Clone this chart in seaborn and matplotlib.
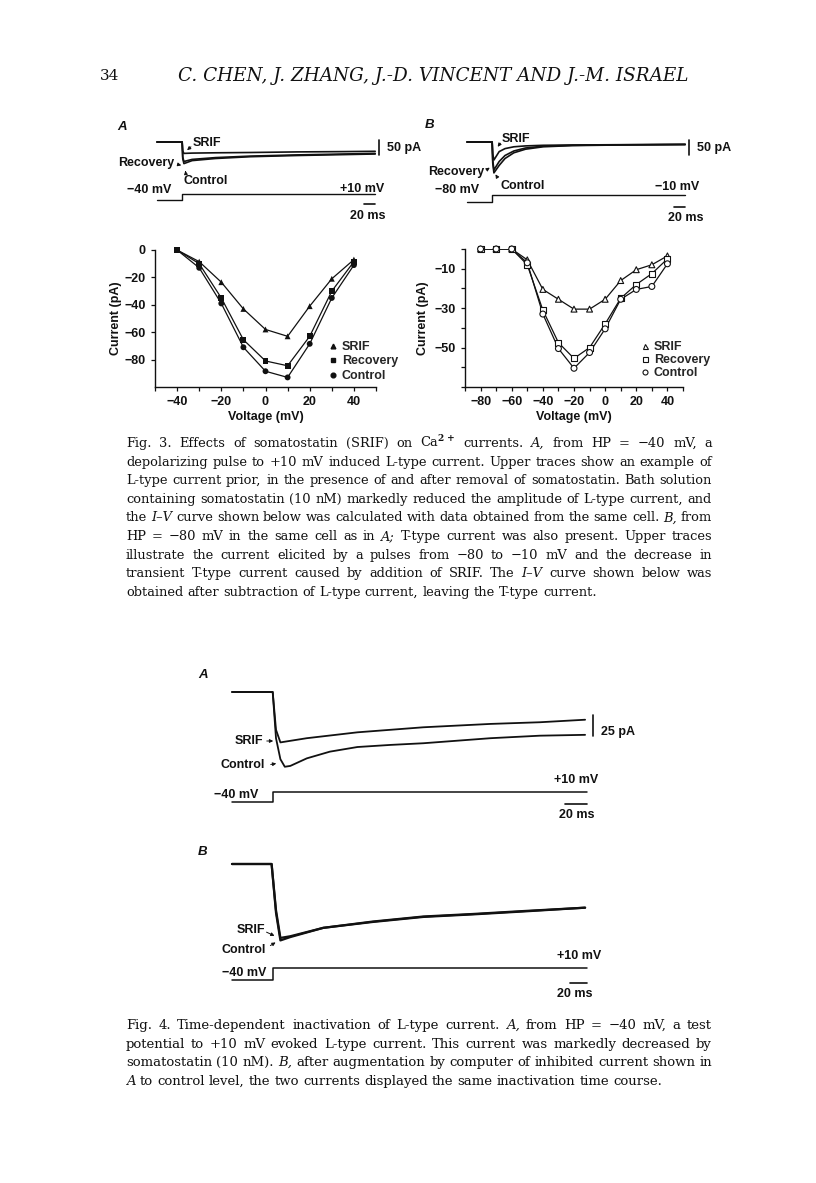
import numpy as np
import pandas as pd
import matplotlib
matplotlib.use("Agg")
import matplotlib.pyplot as plt
import seaborn as sns
from matplotlib.lines import Line2D
from matplotlib.patches import FancyArrowPatch
from matplotlib.ticker import MultipleLocator

W, H = 816, 1183

# ---------------- data ----------------
# Fig. 3A  I-V (L-type), mV / pA
v_L = [-40, -30, -20, -10, 0, 10, 20, 30, 40]
i_L_srif = [0, -8.5, -23.5, -43, -58, -63, -41, -21, -7]
i_L_recovery = [0, -10, -35, -65.5, -81, -84.5, -63, -30, -8.5]
i_L_control = [0, -13, -39, -71, -88.5, -93, -68.5, -35, -11]

# Fig. 3B  I-V (T-type)
v_T = [-80, -70, -60, -50, -40, -30, -20, -10, 0, 10, 20, 30, 40]
i_T_srif = [0, 0, 0, -5.5, -20.5, -25.5, -30.5, -30.5, -25.5, -16, -10.5, -8, -3.5]
i_T_recovery = [0, 0, 0, -8, -31, -47.5, -55.5, -50, -38, -25, -18, -12.5, -5]
i_T_control = [0, 0, 0, -7, -33, -50.5, -60.5, -52.5, -40.5, -25.5, -20.5, -19, -7.5]

conditions = ["SRIF", "Recovery", "Control"]

# Fig. 3A current traces (ms, pA)
t_3a = [0, 43, 44, 46, 60, 100, 160, 240, 320, 373]
srif_3a = [0, 0, -30, -38, -37, -36, -35, -33, -32, -31]
recovery_3a = [0, 0, -50, -65, -58, -52, -47, -43, -40, -38]
control_3a = [0, 0, -55, -72, -62, -55, -49, -45, -42, -40]
step_t_3a = [0, 43, 43, 373]
step_v_3a = [-40, -40, 10, 10]

# Fig. 3B current traces
t_3b = [0, 43, 44, 46, 55, 65, 80, 100, 130, 180, 260, 373]
srif_3b = [0, 0, -40, -60, -32, -22, -16, -13, -11, -10, -9, -8]
recovery_3b = [0, 0, -60, -93, -65, -45, -30, -20, -14, -11, -9.5, -8]
control_3b = [0, 0, -70, -103, -78, -55, -36, -24, -16, -12, -10, -8.5]
step_t_3b = [0, 43, 43, 373]
step_v_3b = [-80, -80, -10, -10]

# Fig. 4A
t_4a_ctrl = [0, 37, 40, 44, 48, 53, 68, 89, 114, 144, 174, 235, 280, 321]
ctrl_4a = [0, 0, -55, -80, -89, -88, -79, -71, -65.5, -63, -61, -55, -52, -51]
t_4a_srif = [0, 37, 40, 44, 68, 114, 174, 235, 280, 321]
srif_4a = [0, 0, -45, -60, -55, -48, -42, -38, -36, -33]
step_t_4 = [0, 37, 37, 323]
step_v_4 = [-40, -40, 10, 10]

# Fig. 4B (SRIF trace scaled up to control)
t_4b = [0, 36, 40, 44, 53, 83, 128, 174, 219, 265, 321]
srif_4b = [0, 0, -55, -88, -86, -76, -69, -63, -60, -56.5, -52]
ctrl_4b = [0, 0, -58, -91, -87, -76, -68.5, -62.5, -59.5, -56, -52]

cap3 = [
    "Fig. 3. Effects of somatostatin (SRIF) on Ca$^{2+}$ currents. *A, from HP = −40 mV, a",
    "depolarizing pulse to +10 mV induced L-type current. Upper traces show an example of",
    "L-type current prior, in the presence of and after removal of somatostatin. Bath solution",
    "containing somatostatin (10 nM) markedly reduced the amplitude of L-type current, and",
    "the *I–V curve shown below was calculated with data obtained from the same cell. *B, from",
    "HP = −80 mV in the same cell as in *A; T-type current was also present. Upper traces",
    "illustrate the current elicited by a pulses from −80 to −10 mV and the decrease in",
    "transient T-type current caused by addition of SRIF. The *I–V curve shown below was",
    "obtained after subtraction of L-type current, leaving the T-type current.",
]
cap4 = [
    "Fig. 4. Time-dependent inactivation of L-type current. *A, from HP = −40 mV, a test",
    "potential to +10 mV evoked L-type current. This current was markedly decreased by",
    "somatostatin (10 nM). *B, after augmentation by computer of inhibited current shown in",
    "*A to control level, the two currents displayed the same inactivation time course.",
]

# ---------------- style ----------------
sns.set_theme(style="ticks")
plt.rcParams["font.family"] = ["Liberation Sans", "DejaVu Sans"]
plt.rcParams["font.weight"] = "bold"
plt.rcParams["axes.labelweight"] = "bold"
plt.rcParams["mathtext.fontset"] = "dejavuserif"
INK = "#111111"

fig = plt.figure(figsize=(W / 100, H / 100), dpi=100)
fig.patch.set_facecolor("white")
R = fig.canvas.get_renderer()


def fx(x):
    return x / W


def fy(y):
    return 1 - y / H


def label(x, y, s, size=9, ha="left", va="center", **kw):
    return fig.text(fx(x), fy(y), s, fontsize=size, ha=ha, va=va, color=INK, **kw)


def arrow(x0, y0, x1, y1):
    fig.add_artist(FancyArrowPatch((fx(x0), fy(y0)), (fx(x1), fy(y1)),
                                   transform=fig.transFigure, arrowstyle="-|>",
                                   mutation_scale=5, lw=0.7, color=INK))


def scaled_axes(left, right, top, bottom, xp0, xv0, xk, yp0, yv0, yk):
    ax = fig.add_axes([fx(left), fy(bottom), (right - left) / W, (bottom - top) / H])
    ax.set_xlim(xv0 + (left - xp0) / xk, xv0 + (right - xp0) / xk)
    ax.set_ylim(yv0 - (bottom - yp0) / yk, yv0 + (yp0 - top) / yk)
    ax.axis("off")
    return ax


def trace(ax, t, y, lw=1.0):
    sns.lineplot(x=t, y=y, ax=ax, color=INK, lw=lw, estimator=None, sort=False)


# ---------------- header ----------------
label(100, 76, "34", size=11, family="DejaVu Serif", fontweight="normal")
hdr = label(178, 76, "C. CHEN, J. ZHANG, J.-D. VINCENT AND J.-M. ISRAEL", size=10,
            family="DejaVu Serif", style="italic", fontweight="normal")
hdr.set_fontsize(10 * 508 / hdr.get_window_extent(R).width)

# ---------------- Fig. 3A traces ----------------
ax = scaled_axes(150, 395, 128, 180, 157, 0, 0.585, 142, 0, 0.3)
for ys in (srif_3a, recovery_3a, control_3a):
    trace(ax, t_3a, ys, 1.2)
ax.plot([t_3a[-1] + 6] * 2, [6, 6 - 50], color=INK, lw=1.2, clip_on=False)
axv = scaled_axes(150, 395, 184, 212, 157, 0, 0.585, 200, -40, 0.12)
trace(axv, step_t_3a, step_v_3a, 1.0)
axv.plot([step_t_3a[-1] - 20, step_t_3a[-1]], [-73, -73], color=INK, lw=1.2, clip_on=False)
label(122, 127, "A", size=9.5, ha="center", style="italic")
label(193, 143, "SRIF")
label(118, 163, "Recovery")
label(183, 181, "Control")
label(127, 190, "−40 mV")
label(384, 189, "+10 mV", ha="right")
label(387, 148, "50 pA")
label(368, 216, "20 ms", ha="center")
arrow(193, 145, 185, 152)
arrow(176, 164, 184, 166)
arrow(186, 175, 185, 168)

# ---------------- Fig. 3B traces ----------------
ax = scaled_axes(460, 705, 128, 180, 467, 0, 0.585, 142, 0, 0.3)
for ys in (srif_3b, recovery_3b, control_3b):
    trace(ax, t_3b, ys, 1.2)
ax.plot([t_3b[-1] + 6] * 2, [6, 6 - 50], color=INK, lw=1.2, clip_on=False)
axv = scaled_axes(460, 705, 184, 212, 467, 0, 0.585, 202, -80, 0.1)
trace(axv, step_t_3b, step_v_3b, 1.0)
axv.plot([step_t_3b[-1] - 20, step_t_3b[-1]], [-130, -130], color=INK, lw=1.2, clip_on=False)
label(430, 125, "B", size=9.5, ha="center", style="italic")
label(502, 139, "SRIF")
label(428, 172, "Recovery")
label(500, 186, "Control")
label(435, 190, "−80 mV")
label(699, 187, "−10 mV", ha="right")
label(697, 148, "50 pA")
label(686, 218, "20 ms", ha="center")
arrow(502, 141, 496, 149)
arrow(485, 171, 492, 166)
arrow(499, 180, 494, 172)

# ---------------- Fig. 3 I-V curves ----------------
df_L = pd.DataFrame({"V": v_L * 3,
                     "I": i_L_srif + i_L_recovery + i_L_control,
                     "cond": [c for c in conditions for _ in v_L]})
df_T = pd.DataFrame({"V": v_T * 3,
                     "I": i_T_srif + i_T_recovery + i_T_control,
                     "cond": [c for c in conditions for _ in v_T]})
markers = {"SRIF": "^", "Recovery": "s", "Control": "o"}


def iv_axes(left, right, top, bottom, xlim, ylim):
    ax = fig.add_axes([fx(left), fy(bottom), (right - left) / W, (bottom - top) / H])
    ax.set_xlim(*xlim)
    ax.set_ylim(*ylim)
    sns.despine(ax=ax)
    for s in ("left", "bottom"):
        ax.spines[s].set_linewidth(1.0)
        ax.spines[s].set_color(INK)
    ax.tick_params(which="both", direction="out", length=3, width=0.9, pad=3.5,
                   labelsize=9, colors=INK)
    ax.xaxis.set_minor_locator(MultipleLocator(10))
    return ax


ax = iv_axes(155, 376, 250, 387, (-50, 50), (-100, 0))
sns.lineplot(data=df_L, x="V", y="I", units="cond", estimator=None, color=INK, lw=0.9, ax=ax)
sns.scatterplot(data=df_L, x="V", y="I", style="cond", markers=markers, color=INK,
                s=18, linewidth=0, ax=ax, legend=False, zorder=3, clip_on=False)
ax.set_xticks([-40, -20, 0, 20, 40])
ax.set_yticks([0, -20, -40, -60, -80])
ax.set_xlabel("Voltage (mV)", fontsize=9, labelpad=2, color=INK)
ax.set_ylabel("Current (pA)", fontsize=9, labelpad=2, color=INK)
hl = [Line2D([], [], ls="", marker=markers[c], color=INK, markersize=3.4) for c in conditions]
ax.legend(hl, conditions, loc="upper left", bbox_to_anchor=(fx(330), fy(341)),
          bbox_transform=fig.transFigure, frameon=False, handlelength=0.5,
          handletextpad=0.45, labelspacing=0.2, borderpad=0, borderaxespad=0,
          prop={"weight": "bold", "size": 9})

ax = iv_axes(465, 683, 249, 387, (-90, 50), (-70, 0))
sns.lineplot(data=df_T, x="V", y="I", units="cond", estimator=None, color=INK, lw=0.9, ax=ax)
sns.scatterplot(data=df_T, x="V", y="I", style="cond", markers=markers, color="white",
                edgecolor=INK, s=18, linewidth=0.8, ax=ax, legend=False, zorder=3, clip_on=False)
ax.set_xticks([-80, -60, -40, -20, 0, 20, 40])
ax.set_yticks([-10, -30, -50])
ax.yaxis.set_minor_locator(MultipleLocator(10))
ax.set_xlabel("Voltage (mV)", fontsize=9, labelpad=2, color=INK)
ax.set_ylabel("Current (pA)", fontsize=9, labelpad=4, color=INK)
hl = [Line2D([], [], ls="", marker=markers[c], color=INK, markerfacecolor="white",
             markersize=3.6, markeredgewidth=0.8) for c in conditions]
ax.legend(hl, conditions, loc="upper left", bbox_to_anchor=(fx(642), fy(341)),
          bbox_transform=fig.transFigure, frameon=False, handlelength=0.5,
          handletextpad=0.45, labelspacing=0.1, borderpad=0, borderaxespad=0,
          prop={"weight": "bold", "size": 9})

# ---------------- Fig. 4A ----------------
ax = scaled_axes(225, 600, 680, 775, 232, 0, 1.1, 692, 0, 0.84)
trace(ax, t_4a_ctrl, ctrl_4a, 1.3)
trace(ax, t_4a_srif, srif_4a, 1.3)
ax.plot([328, 328], [-27, -52], color=INK, lw=1.2, clip_on=False)
axv = scaled_axes(225, 600, 785, 810, 232, 0, 1.1, 802, -40, 0.2)
trace(axv, step_t_4, step_v_4, 1.1)
axv.plot([step_t_4[-1] - 20, step_t_4[-1]], [-50, -50], color=INK, lw=1.2, clip_on=False)
label(203, 675, "A", size=9.5, ha="center", style="italic")
label(235, 741, "SRIF")
label(221, 765, "Control")
label(214, 795, "−40 mV")
label(598, 780, "+10 mV", ha="right")
label(601, 732, "25 pA")
label(577, 815, "20 ms", ha="center")
arrow(264, 741, 276, 741)
arrow(268, 765, 279, 763)

# ---------------- Fig. 4B ----------------
ax = scaled_axes(225, 600, 855, 955, 232, 0, 1.1, 864, 0, 0.84)
trace(ax, t_4b, srif_4b, 1.6)
trace(ax, t_4b, ctrl_4b, 1.6)
axv = scaled_axes(225, 600, 960, 990, 232, 0, 1.1, 980, -40, 0.24)
trace(axv, step_t_4, step_v_4, 1.1)
axv.plot([step_t_4[-1] - 16, step_t_4[-1]], [-52, -52], color=INK, lw=1.2, clip_on=False)
label(203, 852, "B", size=9.5, ha="center", style="italic")
label(237, 930, "SRIF")
label(222, 950, "Control")
label(222, 973, "−40 mV")
label(601, 956, "+10 mV", ha="right")
label(575, 994, "20 ms", ha="center")
arrow(264, 931, 277, 937)
arrow(268, 947, 278, 941)


# ---------------- captions (justified) ----------------
def justified(lines, x0, x1, y_base, dy):
    width = x1 - x0
    objs_all = []
    for line in lines:
        objs = []
        for w in line.split(" "):
            style = "italic" if w.startswith("*") else "normal"
            objs.append(fig.text(0, 0, w.lstrip("*"), fontsize=10, family="DejaVu Serif",
                                 style=style, fontweight="normal", color=INK, va="baseline"))
        objs_all.append(objs)
    a = fig.text(0, 0, "a a", fontsize=10, family="DejaVu Serif", fontweight="normal")
    b = fig.text(0, 0, "aa", fontsize=10, family="DejaVu Serif", fontweight="normal")
    sp = a.get_window_extent(R).width - b.get_window_extent(R).width
    a.remove()
    b.remove()
    natural = [sum(o.get_window_extent(R).width for o in objs) + sp * (len(objs) - 1)
               for objs in objs_all]
    scale = min(1.0, 1.01 * width / max(natural))
    for k, objs in enumerate(objs_all):
        for o in objs:
            o.set_fontsize(10 * scale)
        ws = [o.get_window_extent(R).width for o in objs]
        if k == len(objs_all) - 1:
            gap = sp * scale
        else:
            gap = (width - sum(ws)) / (len(objs) - 1)
        x = x0
        for o, wd in zip(objs, ws):
            o.set_position((fx(x), fy(y_base + k * dy)))
            x += wd + gap


justified(cap3, 126, 712, 447, 18.6)
justified(cap4, 126, 712, 1029, 18.6)

fig.savefig("out.png", dpi=100, facecolor="white")
